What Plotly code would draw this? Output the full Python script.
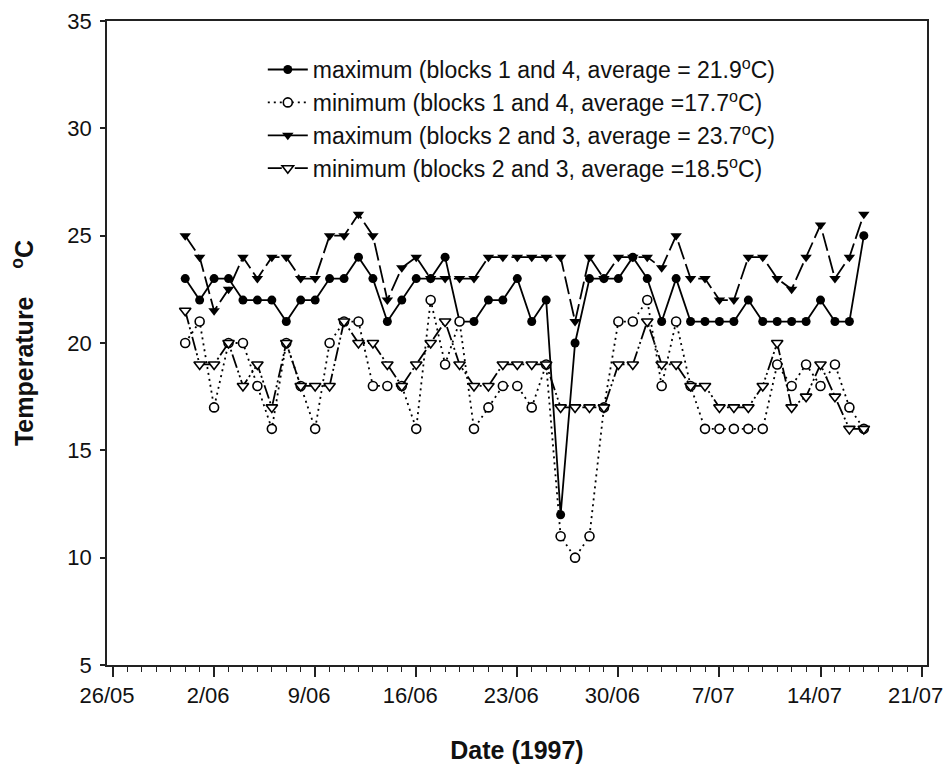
import plotly.graph_objects as go

dates = [
    "1997-05-31", "1997-06-01", "1997-06-02", "1997-06-03", "1997-06-04", "1997-06-05",
    "1997-06-06", "1997-06-07", "1997-06-08", "1997-06-09", "1997-06-10", "1997-06-11",
    "1997-06-12", "1997-06-13", "1997-06-14", "1997-06-15", "1997-06-16", "1997-06-17",
    "1997-06-18", "1997-06-19", "1997-06-20", "1997-06-21", "1997-06-22", "1997-06-23",
    "1997-06-24", "1997-06-25", "1997-06-26", "1997-06-27", "1997-06-28", "1997-06-29",
    "1997-06-30", "1997-07-01", "1997-07-02", "1997-07-03", "1997-07-04", "1997-07-05",
    "1997-07-06", "1997-07-07", "1997-07-08", "1997-07-09", "1997-07-10", "1997-07-11",
    "1997-07-12", "1997-07-13", "1997-07-14", "1997-07-15", "1997-07-16", "1997-07-17",
]

max_b14 = [23, 22, 23, 23, 22, 22, 22, 21, 22, 22, 23, 23,
           24, 23, 21, 22, 23, 23, 24, 21, 21, 22, 22, 23,
           21, 22, 12, 20, 23, 23, 23, 24, 23, 21, 23, 21,
           21, 21, 21, 22, 21, 21, 21, 21, 22, 21, 21, 25]

min_b14 = [20, 21, 17, 20, 20, 18, 16, 20, 18, 16, 20, 21,
           21, 18, 18, 18, 16, 22, 19, 21, 16, 17, 18, 18,
           17, 19, 11, 10, 11, 17, 21, 21, 22, 18, 21, 18,
           16, 16, 16, 16, 16, 19, 18, 19, 18, 19, 17, 16]

max_b23 = [25, 24, 21.5, 22.5, 24, 23, 24, 24, 23, 23, 25, 25,
           26, 25, 22, 23.5, 24, 23, 23, 23, 23, 24, 24, 24,
           24, 24, 24, 21, 24, 23, 24, 24, 24, 23.5, 25, 23,
           23, 22, 22, 24, 24, 23, 22.5, 24, 25.5, 23, 24, 26]

min_b23 = [21.5, 19, 19, 20, 18, 19, 17, 20, 18, 18, 18, 21,
           20, 20, 19, 18, 19, 20, 21, 19, 18, 18, 19, 19,
           19, 19, 17, 17, 17, 17, 19, 19, 21, 19, 19, 18,
           18, 17, 17, 17, 18, 20, 17, 17.5, 19, 17.5, 16, 16]

tick_vals = ["1997-05-26", "1997-06-02", "1997-06-09", "1997-06-16", "1997-06-23",
             "1997-06-30", "1997-07-07", "1997-07-14", "1997-07-21"]
tick_text = ["26/05", "2/06", "9/06", "16/06", "23/06", "30/06", "7/07", "14/07", "21/07"]

names = [
    "maximum (blocks 1 and 4, average = 21.9<sup>o</sup>C)",
    "minimum (blocks 1 and 4, average =17.7<sup>o</sup>C)",
    "maximum (blocks 2 and 3, average = 23.7<sup>o</sup>C)",
    "minimum (blocks 2 and 3, average =18.5<sup>o</sup>C)",
]

FONT = "Liberation Sans, Arial, Helvetica, sans-serif"
INK = "#111111"

fig = go.Figure()

fig.add_trace(go.Scatter(
    x=dates, y=max_b14, name=names[0], mode="lines+markers", legendgroup="a",
    line=dict(color="black", width=1.8),
    marker=dict(symbol="circle", size=9, color="black"),
))
fig.add_trace(go.Scatter(
    x=dates, y=min_b14, name=names[1], mode="lines+markers", legendgroup="b",
    line=dict(color="black", width=1.8, dash="2px,4px"),
    marker=dict(symbol="circle", size=9, color="white", line=dict(color="black", width=1.6)),
))
fig.add_trace(go.Scatter(
    x=dates, y=max_b23, name=names[2], mode="lines+markers", legendgroup="c",
    line=dict(color="black", width=1.8, dash="18px,5px"),
    marker=dict(symbol="triangle-down", size=10, color="black"),
))
fig.add_trace(go.Scatter(
    x=dates, y=min_b23, name=names[3], mode="lines+markers", legendgroup="d",
    line=dict(color="black", width=1.8, dash="14px,3px,2px,3px,2px,3px"),
    marker=dict(symbol="triangle-down", size=10, color="white", line=dict(color="black", width=1.6)),
))

fig.update_layout(
    width=946, height=769,
    margin=dict(l=107, r=19, t=21, b=104, autoexpand=False),
    paper_bgcolor="white", plot_bgcolor="white",
    font=dict(family=FONT, size=22, color=INK),
    showlegend=True,
    legend=dict(
        x=0.19, y=0.958, xanchor="left", yanchor="top",
        bgcolor="rgba(0,0,0,0)", borderwidth=0,
        font=dict(family=FONT, size=23, color=INK),
        tracegroupgap=0, itemwidth=40,
    ),
    xaxis=dict(
        type="date", automargin=False,
        range=["1997-05-25 14:00", "1997-07-21 09:00"],
        tickmode="array", tickvals=tick_vals, ticktext=tick_text,
        ticklabeloverflow="allow", ticklabelshift=-6,
        ticks="outside", ticklen=10, tickwidth=1.5, tickcolor="#222",
        minor=dict(tickmode="linear", tick0="1997-05-26", dtick=86400000,
                   ticks="outside", ticklen=5, tickwidth=1.3, tickcolor="#222"),
        showline=True, linecolor="#222", linewidth=1.8, mirror=True,
        showgrid=False, zeroline=False,
        tickfont=dict(family=FONT, size=22, color=INK),
        title=dict(text="<b>Date (1997)</b>", font=dict(family=FONT, size=25, color=INK), standoff=34),
    ),
    yaxis=dict(
        automargin=False,
        range=[5, 35], tickmode="linear", tick0=5, dtick=5,
        ticks="outside", ticklen=5, tickwidth=1.5, tickcolor="#222",
        ticklabelstandoff=4,
        showline=True, linecolor="#222", linewidth=1.8, mirror=True,
        showgrid=False, zeroline=False,
        tickfont=dict(family=FONT, size=22, color=INK),
        title=dict(text="<b>Temperature\u00a0\u00a0\u00a0\u00a0<sup>o</sup>C</b>",
                   font=dict(family=FONT, size=25, color=INK), standoff=26),
    ),
)

fig.write_html("out.html")
